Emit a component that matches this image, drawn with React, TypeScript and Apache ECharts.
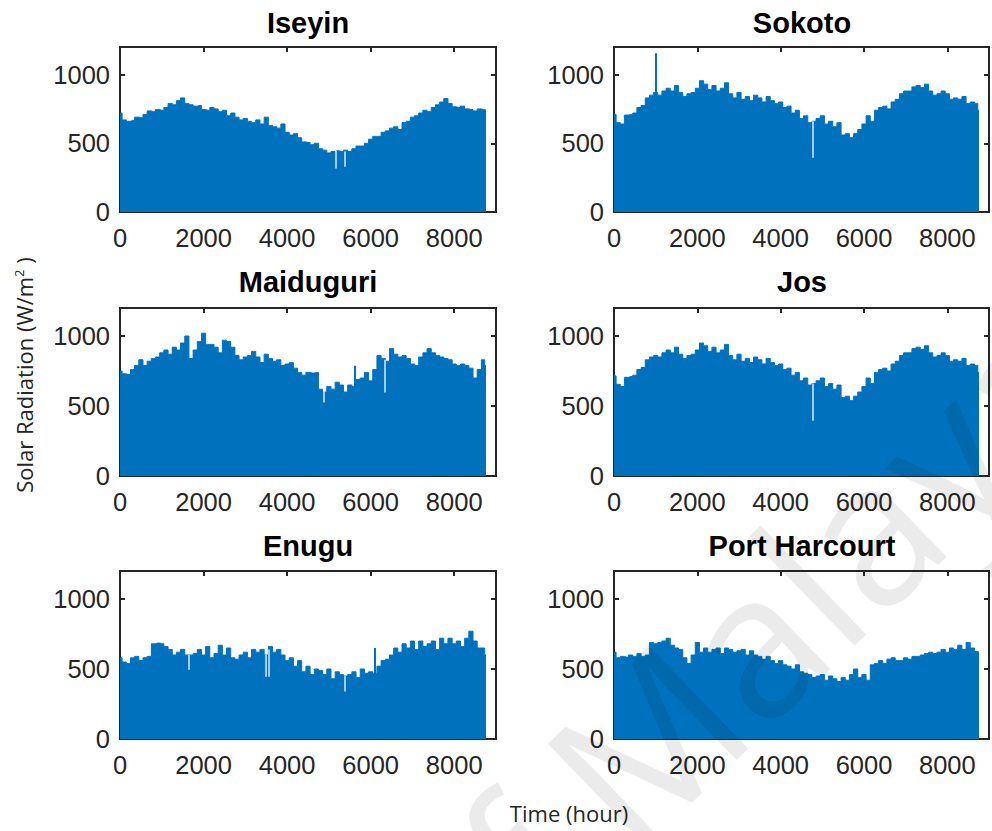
import React, { useEffect, useRef } from "react";
import * as echarts from "echarts";

// ---- Data (hourly solar radiation envelope, W/m^2), read every 100 h ----
const STEP = 100;
const HOURS: number[] = Array.from({ length: 88 }, (_, i) => i * STEP).concat([8760]);

const ISEYIN = [
  720, 670, 660, 665, 690, 685, 710, 735, 730, 745,
  740, 760, 790, 780, 810, 830, 790, 780, 770, 775,
  745, 740, 760, 750, 730, 740, 700, 720, 690, 670,
  680, 660, 650, 670, 640, 690, 630, 620, 610, 640,
  580, 560, 570, 540, 510, 505, 490, 500, 460, 450,
  430, 440, 445, 440, 450, 440, 460, 480, 480, 500,
  530, 550, 550, 580, 590, 610, 620, 600, 650, 660,
  690, 700, 720, 740, 730, 760, 780, 800, 825, 790,
  765, 760, 770, 750, 745, 735, 750, 745, 740,
];
const SOKOTO = [
  710, 650, 640, 705, 710, 720, 760, 775, 830, 850,
  870, 850, 880, 900, 880, 920, 870, 840, 860, 870,
  900, 955, 930, 890, 920, 880, 900, 940, 860, 830,
  870, 820, 840, 810, 850, 830, 800, 840, 810, 790,
  800, 760, 770, 720, 740, 680, 700, 650, 660, 680,
  700, 640, 660, 620, 650, 560, 570, 540, 570, 600,
  640, 700, 660, 740, 760, 770, 750, 800, 820, 860,
  880, 880, 910, 920, 905, 930, 880, 850, 860, 880,
  860, 820, 830, 820, 840, 790, 800, 790, 740,
];
const MAIDUGURI = [
  750, 730, 725, 760, 790, 830, 790, 820, 840, 850,
  880, 900, 870, 920, 900, 950, 1000, 840, 900, 960,
  1020, 940, 940, 920, 880, 970, 960, 920, 860, 830,
  850, 860, 890, 850, 810, 870, 840, 820, 830, 790,
  800, 810, 770, 740, 720, 740, 735, 740, 620, 600,
  640, 620, 670, 650, 600, 650, 640, 690, 700, 740,
  680, 760, 860, 840, 820, 910, 870, 850, 860, 840,
  800, 790, 850, 880, 910, 880, 860, 850, 840, 830,
  800, 790, 800, 790, 770, 700, 760, 830, 790,
];
const JOS = [
  715, 655, 640, 705, 710, 720, 760, 775, 830, 850,
  860, 850, 880, 900, 880, 920, 870, 840, 860, 870,
  900, 950, 930, 890, 920, 880, 900, 940, 860, 830,
  870, 820, 840, 810, 850, 830, 800, 840, 810, 790,
  800, 760, 770, 720, 740, 680, 700, 650, 660, 680,
  700, 640, 660, 620, 650, 560, 570, 540, 570, 600,
  640, 700, 660, 740, 760, 770, 750, 800, 820, 860,
  880, 880, 910, 920, 905, 930, 880, 850, 860, 880,
  860, 820, 830, 820, 840, 790, 800, 790, 740,
];
const ENUGU = [
  580, 550, 540, 580, 590, 560, 580, 590, 680, 685,
  680, 660, 640, 600, 620, 640, 600, 600, 610, 640,
  600, 660, 580, 610, 670, 600, 650, 580, 570, 600,
  620, 580, 640, 620, 640, 600, 660, 620, 640, 600,
  560, 580, 520, 560, 480, 520, 460, 500, 490, 460,
  500, 430, 480, 460, 450, 460, 480, 440, 500, 470,
  480, 470, 520, 560, 570, 600, 650, 620, 680, 650,
  700, 640, 700, 660, 680, 700, 640, 720, 680, 720,
  680, 700, 660, 720, 770, 700, 650, 650, 600,
];
const PORT_HARCOURT = [
  620, 580, 590, 585, 600, 590, 610, 590, 600, 690,
  680, 690, 700, 720, 670, 650, 640, 580, 540, 600,
  690, 620, 650, 620, 640, 650, 610, 650, 640, 620,
  630, 640, 600, 630, 600, 590, 570, 590, 560, 540,
  560, 530, 520, 500, 530, 480, 470, 460, 440, 450,
  460, 420, 450, 430, 410, 440, 420, 460, 500, 440,
  460, 420, 530, 540, 560, 540, 570, 580, 560, 560,
  580, 570, 590, 590, 600, 610, 620, 610, 620, 640,
  620, 650, 640, 670, 640, 690, 650, 625, 620,
];

// single-hour peaks [hour, value] and dips [hour, low, high]
const ISEYIN_PEAKS: number[][] = [];
const ISEYIN_DIPS = [[5170, 316, 445], [5380, 330, 440]];
const SOKOTO_PEAKS = [[1000, 1155]];
const SOKOTO_DIPS = [[4780, 395, 660]];
const MAIDUGURI_PEAKS = [[5630, 787]];
const MAIDUGURI_DIPS = [[4880, 525, 640], [6330, 597, 830]];
const JOS_PEAKS: number[][] = [];
const JOS_DIPS = [[4780, 395, 660]];
const ENUGU_PEAKS = [[6100, 650]];
const ENUGU_DIPS = [[5380, 340, 450], [1640, 495, 600], [3500, 445, 600], [3560, 445, 640]];
const PH_PEAKS: number[][] = [];
const PH_DIPS: number[][] = [];

const TITLES = ["Iseyin", "Sokoto", "Maiduguri", "Jos", "Enugu", "Port Harcourt"];
const VALUES = [ISEYIN, SOKOTO, MAIDUGURI, JOS, ENUGU, PORT_HARCOURT];
const PEAKS = [ISEYIN_PEAKS, SOKOTO_PEAKS, MAIDUGURI_PEAKS, JOS_PEAKS, ENUGU_PEAKS, PH_PEAKS];
const DIPS = [ISEYIN_DIPS, SOKOTO_DIPS, MAIDUGURI_DIPS, JOS_DIPS, ENUGU_DIPS, PH_DIPS];
const X_MAX = 9000;
const X_STEP = 2000;
const Y_MAX = 1200;
const Y_STEP = 500;

// ---- Layout ----
const COL_LEFT = [120, 614];
const COL_W = 376;
const ROW_TOP = [47, 308, 571];
const ROW_H = [165, 168, 168];
const TITLE_Y = [23, 282, 546];

const BLUE = "#0072BD";
const AXIS = "#262626";
const TICK_FONT = "Liberation Sans, Arial, sans-serif";

function buildOption() {
  const grid: any[] = [];
  const xAxis: any[] = [];
  const yAxis: any[] = [];
  const series: any[] = [];
  const graphics: any[] = [];

  for (let i = 0; i < 6; i++) {
    const col = i % 2;
    const row = Math.floor(i / 2);
    grid.push({
      left: COL_LEFT[col],
      top: ROW_TOP[row],
      width: COL_W,
      height: ROW_H[row],
      containLabel: false,
    });
    const lineStyle = { color: AXIS, width: 2 };
    const tick = { show: true, inside: true, length: 5, lineStyle: { color: AXIS, width: 2 } };
    const labelStyle = { fontSize: 25.5, color: AXIS, fontFamily: TICK_FONT };
    xAxis.push({
      gridIndex: i,
      type: "value",
      min: 0,
      max: X_MAX,
      interval: X_STEP,
      position: "bottom",
      axisLine: { show: true, onZero: false, lineStyle },
      axisTick: tick,
      axisLabel: {
        ...labelStyle,
        margin: 13,
        formatter: (v: number) => (v === X_MAX ? "" : String(v)),
      },
      splitLine: { show: false },
    });
    xAxis.push({
      gridIndex: i,
      type: "value",
      min: 0,
      max: X_MAX,
      interval: X_STEP,
      position: "top",
      axisLine: { show: true, onZero: false, lineStyle },
      axisTick: tick,
      axisLabel: { show: false },
      splitLine: { show: false },
    });
    yAxis.push({
      gridIndex: i,
      type: "value",
      min: 0,
      max: Y_MAX,
      interval: Y_STEP,
      position: "left",
      axisLine: { show: true, onZero: false, lineStyle },
      axisTick: tick,
      axisLabel: {
        ...labelStyle,
        margin: 10,
        formatter: (v: number) => (v === Y_MAX ? "" : String(v)),
      },
      splitLine: { show: false },
    });
    yAxis.push({
      gridIndex: i,
      type: "value",
      min: 0,
      max: Y_MAX,
      interval: Y_STEP,
      position: "right",
      axisLine: { show: true, onZero: false, lineStyle },
      axisTick: tick,
      axisLabel: { show: false },
      splitLine: { show: false },
    });

    const vals = VALUES[i];
    series.push({
      type: "line",
      xAxisIndex: 2 * i,
      yAxisIndex: 2 * i,
      data: HOURS.map((h, k) => [h, vals[k]]),
      step: "middle",
      showSymbol: false,
      symbol: "none",
      lineStyle: { color: BLUE, width: 1 },
      areaStyle: { color: BLUE, opacity: 1 },
      itemStyle: { color: BLUE },
      z: 2,
    });
    if (PEAKS[i].length) {
      series.push({
        type: "lines",
        coordinateSystem: "cartesian2d",
        xAxisIndex: 2 * i,
        yAxisIndex: 2 * i,
        data: PEAKS[i].map((p) => ({ coords: [[p[0], 0], [p[0], p[1]]] })),
        lineStyle: { color: BLUE, width: 2, opacity: 1 },
        z: 3,
      });
    }
    if (DIPS[i].length) {
      series.push({
        type: "lines",
        coordinateSystem: "cartesian2d",
        xAxisIndex: 2 * i,
        yAxisIndex: 2 * i,
        data: DIPS[i].map((d) => ({ coords: [[d[0], d[1]], [d[0], d[2]]] })),
        lineStyle: { color: "#ffffff", width: 1.5, opacity: 0.85 },
        z: 3,
      });
    }

    graphics.push({
      type: "text",
      x: COL_LEFT[col] + COL_W / 2,
      y: TITLE_Y[row],
      style: {
        text: TITLES[i],
        fill: "#000000",
        font: "bold 29px 'Liberation Sans', Arial, sans-serif",
        align: "center",
        verticalAlign: "middle",
      },
      z: 10,
    });
  }

  graphics.push({
    type: "text",
    x: 24,
    y: 375,
    rotation: Math.PI / 2,
    style: {
      text: "Solar Radiation (W/m{sup|2} )",
      fill: AXIS,
      font: "22px 'Open Sans', sans-serif",
      align: "center",
      verticalAlign: "middle",
      rich: {
        sup: {
          fontSize: 13,
          fontFamily: "Open Sans",
          fill: AXIS,
          verticalAlign: "top",
          padding: [0, 0, 10, 0],
        },
      },
    },
    z: 10,
  });
  graphics.push({
    type: "text",
    x: 569,
    y: 813,
    style: {
      text: "Time (hour)",
      fill: AXIS,
      font: "22px 'Open Sans', sans-serif",
      align: "center",
      verticalAlign: "middle",
    },
    z: 10,
  });
  // faint watermark
  graphics.push({
    type: "text",
    x: 775,
    y: 615,
    rotation: (44 * Math.PI) / 180,
    silent: true,
    style: {
      text: "f Malaya",
      fill: "rgba(0,0,0,0.08)",
      font: "200px 'Open Sans', sans-serif",
      align: "center",
      verticalAlign: "middle",
    },
    z: 100,
  });

  return {
    animation: false,
    backgroundColor: "#ffffff",
    grid,
    xAxis,
    yAxis,
    series,
    graphic: { elements: graphics },
  };
}

export default function App() {
  const ref = useRef<HTMLDivElement>(null);
  useEffect(() => {
    if (!ref.current) return;
    const chart = echarts.init(ref.current, null, { renderer: "svg" });
    chart.setOption(buildOption() as any);
    return () => chart.dispose();
  }, []);
  return (
    <div
      ref={ref}
      style={{ position: "fixed", left: 0, top: 0, width: 992, height: 831, background: "#fff" }}
    />
  );
}
